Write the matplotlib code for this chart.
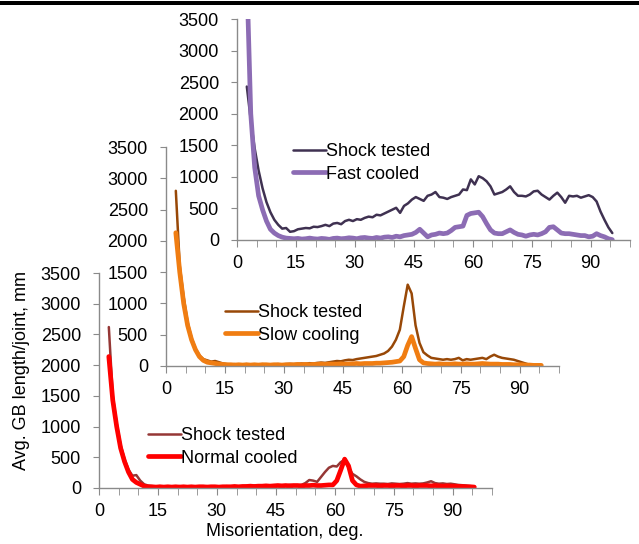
import numpy as np
import matplotlib
matplotlib.use("Agg")
import matplotlib.pyplot as plt
from matplotlib.patches import Rectangle

plt.rcParams["font.family"] = ["Liberation Sans", "DejaVu Sans"]
plt.rcParams["font.size"] = 13

# misorientation grid (deg)
x = np.arange(2.5, 96.0, 1.0)

# top panel
shock_fast = [2430, 1900, 1450, 1100, 820, 600, 440, 320, 240, 180,
              190, 130, 140, 170, 180, 190, 185, 210, 205, 220,
              240, 220, 260, 270, 250, 300, 320, 300, 330, 320,
              350, 370, 360, 400, 390, 420, 450, 480, 510, 430,
              540, 580, 640, 680, 650, 620, 700, 720, 760, 680,
              670, 650, 680, 700, 720, 800, 790, 960, 880, 1010,
              980, 930, 850, 720, 740, 760, 800, 850, 760, 700,
              700, 690, 720, 770, 780, 720, 680, 640, 700, 750,
              680, 590, 700, 690, 700, 670, 690, 710, 680, 610,
              450, 320, 200, 110]
fast = [4200, 2000, 1150, 700, 480, 300, 170, 110, 70, 45,
        30, 25, 20, 25, 15, 20, 30, 20, 15, 25,
        20, 10, 25, 30, 20, 25, 35, 30, 20, 35,
        40, 30, 25, 40, 30, 45, 50, 40, 60, 50,
        70, 80, 90, 120, 170, 110, 50, 80, 90, 110,
        100, 110, 150, 200, 210, 220, 390, 420, 430, 440,
        370, 260, 160, 110, 100, 100, 130, 160, 120, 90,
        80, 60, 80, 90, 80, 100, 130, 200, 210, 160,
        110, 100, 100, 90, 80, 70, 70, 50, 60, 100,
        70, 50, 20, 5]

# middle panel
shock_slow = [2800, 1600, 1100, 700, 450, 280, 170, 110, 90, 70,
              80, 60, 40, 30, 25, 30, 20, 25, 30, 20,
              25, 20, 30, 25, 20, 25, 30, 25, 30, 35,
              30, 35, 40, 35, 45, 40, 50, 55, 50, 60,
              70, 80, 75, 90, 100, 95, 110, 120, 130, 140,
              150, 160, 180, 200, 240, 310, 420, 580, 950, 1300,
              1160, 650, 370, 220, 170, 130, 120, 110, 100, 110,
              100, 110, 130, 90, 110, 100, 110, 120, 130, 110,
              150, 180, 150, 130, 120, 110, 100, 80, 60, 40,
              20, np.nan, np.nan, np.nan]
slow = [2130, 1500, 1000, 650, 420, 260, 150, 90, 60, 50,
        40, 30, 25, 20, 20, 15, 20, 15, 20, 15,
        20, 15, 20, 20, 15, 20, 20, 15, 20, 20,
        20, 25, 20, 25, 20, 25, 25, 30, 25, 30,
        30, 30, 35, 30, 35, 35, 40, 35, 40, 40,
        40, 45, 45, 50, 55, 60, 70, 80, 150, 330,
        470, 280, 100, 50, 40, 35, 30, 35, 30, 30,
        30, 35, 30, 30, 35, 30, 30, 35, 40, 35,
        30, 30, 30, 25, 25, 25, 20, 20, 20, 15,
        15, 10, 10, 10]

# bottom panel
shock_normal = [2620, 1500, 1050, 700, 470, 300, 200, 210, 120, 60,
                40, 30, 25, 30, 20, 25, 20, 25, 30, 20,
                25, 20, 25, 20, 25, 30, 20, 25, 20, 25,
                30, 25, 30, 25, 30, 35, 30, 40, 35, 40,
                35, 40, 45, 40, 45, 40, 50, 45, 40, 50,
                80, 130, 120, 100, 180, 260, 330, 360, 350, 420,
                460, 330, 230, 190, 140, 100, 80, 70, 75, 70,
                70, 65, 75, 70, 65, 70, 80, 70, 75, 70,
                75, 90, 110, 80, 70, 75, 65, 70, 60, 50,
                45, 40, 30, 20]
normal = [2140, 1430, 1000, 650, 430, 260, 140, 90, 60, 30,
          20, 20, 15, 20, 15, 20, 15, 20, 15, 20,
          15, 20, 15, 20, 20, 15, 20, 20, 15, 20,
          20, 20, 25, 20, 25, 25, 30, 25, 30, 30,
          35, 30, 35, 40, 35, 40, 35, 40, 40, 35,
          40, 40, 45, 40, 40, 45, 50, 50, 120, 290,
          470, 360, 120, 50, 30, 35, 40, 40, 40, 35,
          40, 40, 35, 40, 40, 35, 40, 40, 35, 40,
          40, 40, 35, 40, 35, 30, 35, 30, 30, 25,
          25, 20, 20, 15]

W, H = 639, 544
fig = plt.figure(figsize=(W / 100, H / 100), dpi=100)
fig.add_artist(Rectangle((0, 1 - 5 / H), 1, 4 / H, transform=fig.transFigure,
                         color="black", lw=0))

panels = [
    # (left, bottom y px, height px, thin series, thick series, labels, colors, legend anchor px)
    (99, 488, 215, shock_normal, normal, ("Shock tested", "Normal cooled"),
     ("#953735", "#ff0000"), (148, 447)),
    (166, 366, 219, shock_slow, slow, ("Shock tested", "Slow cooling"),
     ("#984807", "#f07d12"), (225, 324)),
    (237, 240, 221, shock_fast, fast, ("Shock tested", "Fast cooled"),
     ("#3f3151", "#8c6cb4"), (293, 163)),
]

spine_col = "#8a8a8a"
for left, base, hgt, thin, thick, labels, cols, leg in panels:
    ax = fig.add_axes([left / W, (H - base) / H, 393 / W, hgt / H])
    ax.patch.set_visible(False)
    ax.plot(x, thin, color=cols[0], lw=1.8, label=labels[0],
            solid_joinstyle="round", solid_capstyle="round")
    ax.plot(x, thick, color=cols[1], lw=3.4, label=labels[1],
            solid_joinstyle="round", solid_capstyle="round")
    ax.set_xlim(0, 100)
    ax.set_ylim(0, 3500)
    ax.set_xticks(np.arange(0, 91, 15))
    ax.set_xticks(np.arange(0, 101, 5), minor=True)
    ax.set_yticks(np.arange(0, 3501, 500))
    for s in ("top", "right"):
        ax.spines[s].set_visible(False)
    for s in ("left", "bottom"):
        ax.spines[s].set_color(spine_col)
        ax.spines[s].set_linewidth(1.0)
    ax.tick_params(axis="x", which="both", direction="out", length=5,
                   color=spine_col, pad=6)
    ax.tick_params(axis="y", direction="out", length=4, color=spine_col, pad=9)
    ax.legend(loc="center left", bbox_to_anchor=(leg[0] / W, 1 - leg[1] / H),
              bbox_transform=fig.transFigure, frameon=False, handlelength=1.8,
              handletextpad=0.05, borderpad=0, borderaxespad=0,
              labelspacing=0.3)

fig.text(22 / W, 1 - 370 / H, "Avg. GB length/joint, mm", rotation=90,
         ha="center", va="center")
fig.text(285 / W, 1 - 532 / H, "Misorientation, deg.", ha="center", va="center")

fig.savefig("out.png", dpi=100)
